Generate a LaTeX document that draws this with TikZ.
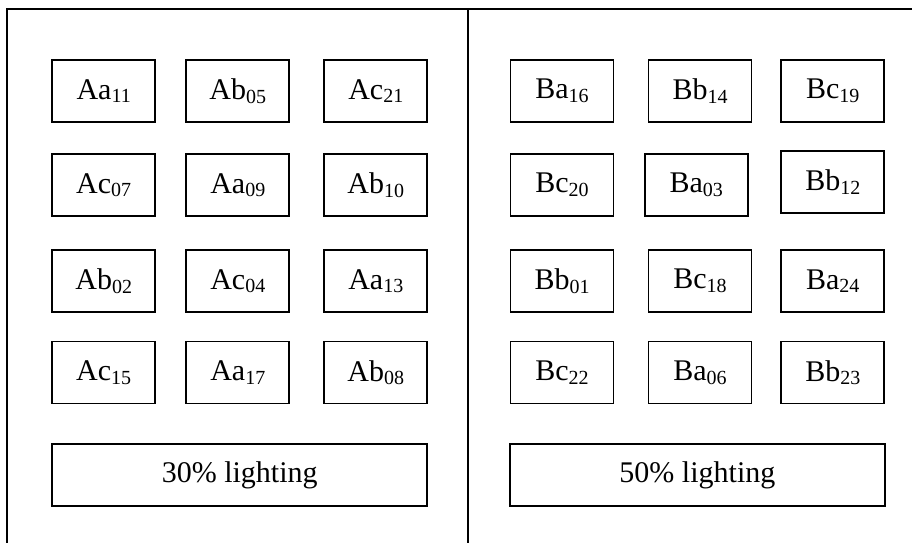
\documentclass[tikz,border=0pt]{standalone}
\usepackage{fontspec}
\setmainfont{Liberation Serif}
% cell label: letters followed by a lowered, smaller number
\newcommand\cell[2]{#1\raisebox{-0.12em}{\fontsize{20}{20}\selectfont #2}}
\begin{document}
\begin{tikzpicture}[x=1pt,y=-1pt,
  frameline/.style={line width=2pt,line cap=rect},
  unitbox/.style={draw,line width=1.7pt,minimum width=103pt,minimum height=62pt,
    inner sep=0pt,font=\fontsize{30}{36}\selectfont},
  lightbox/.style={unitbox,minimum width=375pt}]
\useasboundingbox (0,0) rectangle (912,542);
\clip (0,0) rectangle (912,542);

% outer frame and the divider between the two groups
\coordinate (fbl) at (7,560);
\coordinate (ftl) at (7,9);
\coordinate (ftr) at (930,9);
\coordinate (dtop) at (467.5,9);
\coordinate (dbot) at (467.5,560);
\draw[frameline] (fbl) -- (ftl) -- (ftr);
\draw[frameline] (dtop) -- (dbot);

% group A
\node[unitbox] (aa11) at (103.7,91) {\cell{Aa}{11}};
\node[unitbox] (ab05) at (237.8,91) {\cell{Ab}{05}};
\node[unitbox] (ac21) at (375.8,91) {\cell{Ac}{21}};
\node[unitbox] (ac07) at (103.7,185) {\cell{Ac}{07}};
\node[unitbox] (aa09) at (237.8,185) {\cell{Aa}{09}};
\node[unitbox] (ab10) at (375.8,185) {\cell{Ab}{10}};
\node[unitbox] (ab02) at (103.7,281) {\cell{Ab}{02}};
\node[unitbox] (ac04) at (237.8,281) {\cell{Ac}{04}};
\node[unitbox] (aa13) at (375.8,281) {\cell{Aa}{13}};
\node[unitbox] (ac15) at (103.7,372.5) {\cell{Ac}{15}};
\node[unitbox] (aa17) at (237.8,372.5) {\cell{Aa}{17}};
\node[unitbox] (ab08) at (375.8,372.5) {\cell{Ab}{08}};
\node[lightbox] (lightA) at (239.7,475) {30\% lighting};

% group B
\node[unitbox] (ba16) at (562,91) {\cell{Ba}{16}};
\node[unitbox] (bb14) at (700,91) {\cell{Bb}{14}};
\node[unitbox] (bc19) at (832.8,91) {\cell{Bc}{19}};
\node[unitbox] (bc20) at (562,185) {\cell{Bc}{20}};
\node[unitbox] (ba03) at (696.2,185) {\cell{Ba}{03}};
\node[unitbox] (bb12) at (832.8,182.3) {\cell{Bb}{12}};
\node[unitbox] (bb01) at (562,281) {\cell{Bb}{01}};
\node[unitbox] (bc18) at (700,281) {\cell{Bc}{18}};
\node[unitbox] (ba24) at (832.8,281) {\cell{Ba}{24}};
\node[unitbox] (bc22) at (562,372.5) {\cell{Bc}{22}};
\node[unitbox] (ba06) at (700,372.5) {\cell{Ba}{06}};
\node[unitbox] (bb23) at (832.8,372.5) {\cell{Bb}{23}};
\node[lightbox] (lightB) at (697.4,475) {50\% lighting};
\end{tikzpicture}
\end{document}
